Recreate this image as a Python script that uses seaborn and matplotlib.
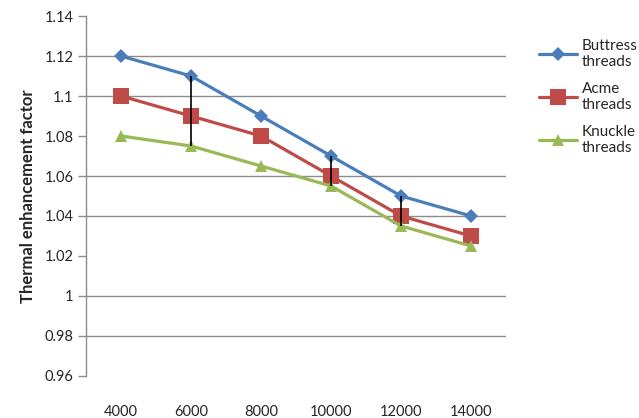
import pandas as pd
import matplotlib.pyplot as plt
import seaborn as sns

# data
reynolds = ['4000', '6000', '8000', '10000', '12000', '14000']
buttress = [1.12, 1.11, 1.09, 1.07, 1.05, 1.04]
acme = [1.10, 1.09, 1.08, 1.06, 1.04, 1.03]
knuckle = [1.08, 1.075, 1.065, 1.055, 1.035, 1.025]
series_names = ['Buttress\nthreads', 'Acme\nthreads', 'Knuckle\nthreads']
bar_points = ['6000', '10000', '12000']
y_ticks = [0.96, 0.98, 1.0, 1.02, 1.04, 1.06, 1.08, 1.1, 1.12, 1.14]
y_tick_labels = ['0.96', '0.98', '1', '1.02', '1.04', '1.06', '1.08', '1.1', '1.12', '1.14']
grid_values = [0.98, 1.0, 1.04, 1.06, 1.1, 1.12]

df = pd.DataFrame({
    'Re': reynolds * 3,
    'value': buttress + acme + knuckle,
    'series': [series_names[0]] * 6 + [series_names[1]] * 6 + [series_names[2]] * 6,
})

sns.set_theme(style="white")
plt.rcParams['font.family'] = ['Lato', 'DejaVu Sans']

fig = plt.figure(figsize=(6.39, 4.18), dpi=100)
ax = fig.add_axes([0.1346, 0.1005, 0.6574, 0.8612])

for g in grid_values:
    ax.axhline(g, color='#8c8c8c', lw=1.0, zorder=0)

palette = {series_names[0]: '#4a7ebb', series_names[1]: '#be4b48', series_names[2]: '#98b954'}
markers = {series_names[0]: 'D', series_names[1]: 's', series_names[2]: '^'}
sns.lineplot(data=df, x='Re', y='value', hue='series', style='series',
             palette=palette, markers=markers, dashes=False, linewidth=2.3,
             markersize=9, markeredgewidth=0, sort=False, ax=ax, zorder=3)

# vertical black bars spanning the three series
idx = [reynolds.index(r) for r in bar_points]
ax.vlines(idx, [knuckle[i] for i in idx], [buttress[i] for i in idx],
          color='black', lw=1.2, zorder=4)

for line in ax.get_lines():
    if line.get_marker() == 's':
        line.set_markersize(11)
    elif line.get_marker() == 'D':
        line.set_markersize(7)

ax.set_xlim(-0.5, 5.5)
ax.set_ylim(0.96, 1.14)
ax.set_yticks(y_ticks)
ax.set_yticklabels(y_tick_labels)
ax.tick_params(axis='y', direction='out', length=6, color='#8c8c8c', width=1,
               labelsize=10.5, pad=3, left=True)
ax.tick_params(axis='x', length=0, labelsize=10.5, pad=21)
ax.set_xlabel('')
ax.set_ylabel('Thermal enhancement factor', fontsize=12, fontweight='bold', labelpad=6)

for s in ['top', 'right', 'bottom']:
    ax.spines[s].set_visible(False)
ax.spines['left'].set_color('#8c8c8c')
ax.spines['left'].set_linewidth(1.0)

handles, labels = ax.get_legend_handles_labels()
ax.legend(handles, labels, loc='upper left', bbox_to_anchor=(1.045, 0.975),
          frameon=False, fontsize=11, handlelength=2.5, labelspacing=0.85,
          handletextpad=0.3)

plt.savefig('out.png', dpi=100)
plt.close()
